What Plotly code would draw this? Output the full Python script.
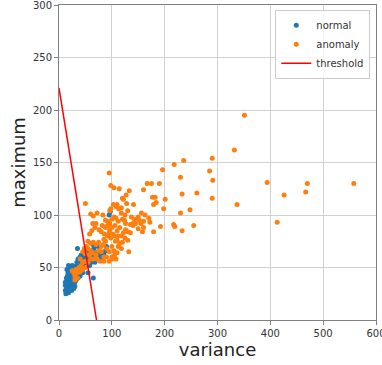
import plotly.graph_objects as go

# normal points (variance, maximum)
normal_x = [15,18,25,33,35,12,12,13,14,15,16,18,18,20,20,20,22,22,24,24,25,26,27,28,28,30,30,30,32,32,34,34,36,36,38,38,40,40,42,42,44,45,46,48,48,50,50,52,52,54,55,56,58,58,60,62,64,66,68,70,72,65,74,78,80,85,88,90,95,97,16,17,19,21,23,26,14,16,17,19,21,23,25,27,29,31,33,35,37,39,41,43,45,47,49,51,53,57,61,63,67,44,40,36,26,28,22,18,24,12,14]
normal_y = [48,52,52,52,68,33,28,25,30,35,38,33,28,30,36,40,34,44,38,42,30,46,36,40,48,32,44,50,38,46,42,55,48,58,45,52,55,60,50,62,56,45,60,52,64,58,66,55,62,60,45,66,52,64,62,58,72,68,55,60,64,40,70,62,58,63,66,70,100,103,42,45,47,49,50,50,27,26,31,33,37,39,41,43,35,37,40,44,47,49,53,54,57,58,60,61,64,56,55,66,62,47,42,40,32,30,31,26,28,36,40]

# anomaly points (variance, maximum)
anomaly_x = [351,332,290,236,218,196,285,95,230,291,394,558,470,167,175,190,98,104,114,133,160,261,233,127,467,426,120,122,177,182,201,290,337,184,179,128,141,50,108,248,198,230,156,413,255,217,219,192,233,179,158,132,108,85,
             60,65,72,83,88,92,96,98,113,118,125,130,137,143,150,152,155,160,163,170,172,145,140,135,126,120,112,108,104,100,
             88,92,96,102,106,110,115,118,122,126,130,135,140,150,160,125,130,120,115,110,105,98,92,86,80,76,70,64,68,62,58,
             55,60,65,70,75,80,84,88,90,95,100,104,110,112,118,100,105,80,75,70,65,60,55,52,48,45,50,58,
             60,65,72,78,85,90,95,100,55,50,45,40,42,38,35,30,28,25,32,40,45,35,30,50,
             107,112,100,96,103,110,118,124,95,85,82]
anomaly_y = [195,162,154,152,148,143,142,140,136,133,131,130,130,130,130,130,128,126,125,123,124,121,120,119,122,119,116,115,117,117,115,116,110,112,110,111,110,111,108,105,106,102,102,93,90,91,89,89,85,84,84,65,58,56,
             101,99,102,100,95,94,104,106,106,102,100,104,98,96,98,95,92,94,100,97,93,92,90,91,92,96,94,97,98,96,
             88,90,86,82,90,85,88,80,83,86,84,83,92,87,88,78,76,74,73,76,80,78,80,82,84,86,92,92,88,85,82,
             75,73,74,72,74,70,72,75,68,65,70,66,64,70,68,60,62,65,66,62,64,66,68,70,68,65,63,62,
             58,58,58,56,60,60,56,58,55,56,55,58,52,50,45,42,45,47,48,46,48,40,38,50,
             75,80,88,92,110,110,107,95,83,77,90]

# threshold line endpoints
thr_x = [0, 71]
thr_y = [221, 0]

x_ticks = [0, 100, 200, 300, 400, 500, 600]
y_ticks = [0, 50, 100, 150, 200, 250, 300]

fig = go.Figure()
fig.add_trace(go.Scatter(x=normal_x, y=normal_y, mode="markers", name="normal",
                         marker=dict(color="#1f77b4", size=5, line=dict(width=0))))
fig.add_trace(go.Scatter(x=anomaly_x, y=anomaly_y, mode="markers", name="anomaly",
                         marker=dict(color="#ff7f0e", size=5, line=dict(width=0))))
fig.add_trace(go.Scatter(x=thr_x, y=thr_y, mode="lines", name="threshold",
                         line=dict(color="#ff0000", width=1.5)))

axis_common = dict(showgrid=True, gridcolor="#d0d0d0", gridwidth=1,
                   showline=True, linecolor="#808080", linewidth=1, mirror=True,
                   ticks="outside", ticklen=4, tickcolor="#808080",
                   zeroline=False, tickfont=dict(size=10, color="#333333"),
                   ticklabeloverflow="allow")

fig.update_layout(
    width=382, height=365,
    margin=dict(l=59, r=6, t=5, b=45, autoexpand=False),
    paper_bgcolor="white", plot_bgcolor="white",
    font=dict(family="DejaVu Sans", color="#222222"),
    showlegend=True,
    legend=dict(x=0.982, y=0.985, xanchor="right", yanchor="top",
                bgcolor="rgba(255,255,255,0.8)", bordercolor="#cccccc", borderwidth=1,
                font=dict(size=10, color="#333333"), tracegroupgap=0, itemwidth=30),
    xaxis=dict(range=[0, 600], tickvals=x_ticks,
               title=dict(text="variance", font=dict(size=18), standoff=2), **axis_common),
    yaxis=dict(range=[0, 300], tickvals=y_ticks,
               title=dict(text="maximum", font=dict(size=18), standoff=2), **axis_common),
)

fig.write_html("out.html", config={"displayModeBar": False},
               post_script="document.body.style.margin='0';")
